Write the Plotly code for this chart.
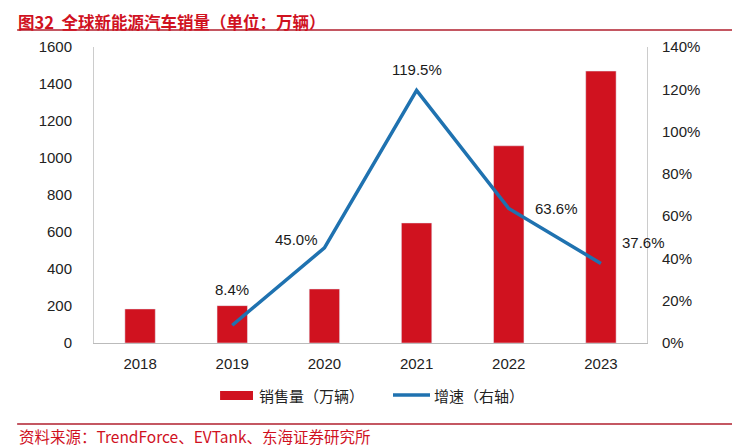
import plotly.graph_objects as go

years = [2018, 2019, 2020, 2021, 2022, 2023]
sales = [184, 202, 292, 649, 1066, 1470]
growth = [None, 8.4, 45.0, 119.5, 63.6, 37.6]
growth_labels = ["", "8.4%", "45.0%", "119.5%", "63.6%", "37.6%"]
label_dx = [0, 0, -28, 0, 48, 43]
label_dy = [0, 36, 8, 21, 0, 21]

RED = "#D0121F"
BLUE = "#1F72B0"
FONT = "Liberation Sans, Arial, sans-serif"
CJK = "Noto Sans CJK SC, sans-serif"

fig = go.Figure()
fig.add_trace(go.Bar(x=years, y=sales, name="销售量（万辆）", marker_color=RED, yaxis="y"))
fig.add_trace(go.Scatter(x=years, y=growth, name="增速（右轴）", mode="lines",
                         line=dict(color=BLUE, width=3.5), yaxis="y2", cliponaxis=False))

for yr, g, lab, dx, dy in zip(years, growth, growth_labels, label_dx, label_dy):
    if g is None:
        continue
    fig.add_annotation(x=yr, y=g, xref="x", yref="y2", text=lab, showarrow=False,
                       xshift=dx, yshift=dy, font=dict(family=FONT, size=15, color="#1a1a1a"))

fig.update_layout(
    width=732, height=439,
    margin=dict(l=86, r=93, t=39, b=104),
    paper_bgcolor="white", plot_bgcolor="white",
    bargap=0.67,
    font=dict(family=FONT, size=15, color="#222"),
    xaxis=dict(type="linear", range=[years[0] - 0.5, years[-1] + 0.5],
               tickvals=years, ticktext=[str(y) for y in years],
               showline=True, linecolor="#bbb", linewidth=1, ticks="", showgrid=False,
               zeroline=False, tickfont=dict(size=15), ticklabelstandoff=7),
    yaxis=dict(range=[0, 1600], dtick=200, showline=True, linecolor="#ccc", showgrid=False,
               zeroline=False, ticks="", ticklabelstandoff=18, tickfont=dict(size=15)),
    yaxis2=dict(range=[0, 140], dtick=20, overlaying="y", side="right", showline=True,
                linecolor="#ccc", showgrid=False, zeroline=False, ticksuffix="%",
                ticks="", ticklabelstandoff=11, tickfont=dict(size=15)),
    showlegend=False,
)

# legend drawn manually
fig.add_shape(type="rect", xref="paper", yref="paper", x0=0.228, x1=0.2875, y0=-0.1926, y1=-0.162,
              line=dict(width=0), fillcolor=RED)
fig.add_annotation(xref="paper", yref="paper", x=0.2948, y=-0.1757, xanchor="left", yanchor="middle",
                   text="销售量（万辆）", showarrow=False, font=dict(family=CJK, size=15, color="#222"))
fig.add_shape(type="line", xref="paper", yref="paper", x0=0.5407, x1=0.6076, y0=-0.1757, y1=-0.1757,
              line=dict(color=BLUE, width=3.5))
fig.add_annotation(xref="paper", yref="paper", x=0.611, y=-0.1757, xanchor="left", yanchor="middle",
                   text="增速（右轴）", showarrow=False, font=dict(family=CJK, size=15, color="#222"))

fig.add_annotation(xref="paper", yref="paper", x=-0.139, y=1.127, xanchor="left", yanchor="top",
                   text="<b>图32  全球新能源汽车销量（单位：万辆）</b>", showarrow=False,
                   font=dict(family=CJK, size=16.5, color=RED), borderpad=0)
fig.add_shape(type="line", xref="paper", yref="paper", x0=-0.139, x1=1.168, y0=1.0574, y1=1.0574,
              line=dict(color="#B01F2E", width=1.5))
fig.add_shape(type="line", xref="paper", yref="paper", x0=-0.139, x1=1.168, y0=-0.274, y1=-0.274,
              line=dict(color="#B01F2E", width=1.5))
fig.add_annotation(xref="paper", yref="paper", x=-0.139, y=-0.314, xanchor="left", yanchor="middle",
                   text="资料来源：TrendForce、EVTank、东海证券研究所", showarrow=False,
                   font=dict(family=CJK, size=15.5, color=RED))

fig.write_html("out.html")
